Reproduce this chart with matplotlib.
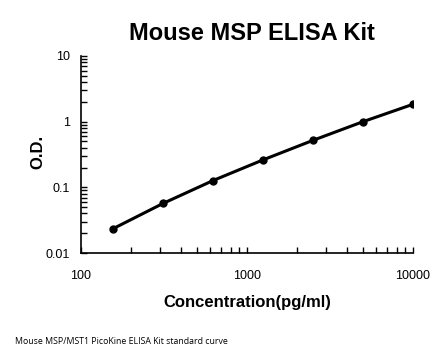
import matplotlib
matplotlib.use("Agg")
import matplotlib.pyplot as plt
from matplotlib.ticker import LogLocator, FixedLocator, FixedFormatter, NullFormatter

concentration = [156.25, 312.5, 625, 1250, 2500, 5000, 10000]
od_values = [0.0235, 0.057, 0.127, 0.262, 0.52, 1.0, 1.84]
x_ticks = [100, 1000, 10000]
x_tick_labels = ["100", "1000", "10000"]
y_ticks = [0.01, 0.1, 1, 10]
y_tick_labels = ["0.01", "0.1", "1", "10"]

plt.rcParams['font.family'] = ['Liberation Sans', 'DejaVu Sans']

fig = plt.figure(figsize=(4.46, 3.56), dpi=100)
ax = fig.add_axes([81/446, 1-253/356, (413-81)/446, (253-56)/356])

ax.plot(concentration, od_values, color='black', linewidth=2.2,
        marker='o', markersize=5, solid_capstyle='round')

ax.set_xscale('log')
ax.set_yscale('log')
ax.set_xlim(100, 10000)
ax.set_ylim(0.01, 10)

ax.xaxis.set_major_locator(FixedLocator(x_ticks))
ax.xaxis.set_major_formatter(FixedFormatter(x_tick_labels))
ax.yaxis.set_major_locator(FixedLocator(y_ticks))
ax.yaxis.set_major_formatter(FixedFormatter(y_tick_labels))
ax.xaxis.set_minor_locator(LogLocator(base=10, subs=range(2, 10)))
ax.yaxis.set_minor_locator(LogLocator(base=10, subs=range(2, 10)))
ax.xaxis.set_minor_formatter(NullFormatter())
ax.yaxis.set_minor_formatter(NullFormatter())

ax.tick_params(which='both', direction='in', length=4, width=1, labelsize=9,
               colors='black')
ax.tick_params(axis='y', which='both', pad=8)
ax.tick_params(axis='x', which='both', pad=12)

for s in ['top', 'right']:
    ax.spines[s].set_visible(False)
for s in ['left', 'bottom']:
    ax.spines[s].set_linewidth(1.2)

fig.text(252/446, 1-33/356, "Mouse MSP ELISA Kit", ha='center', va='center',
         fontsize=17, fontweight='bold')
fig.text(38/446, 1-152/356, "O.D.", ha='center', va='center', rotation=90,
         fontsize=12, fontweight='bold')
fig.text(247/446, 1-302/356, "Concentration(pg/ml)", ha='center', va='center',
         fontsize=12, fontweight='bold')
fig.text(15/446, 1-342/356, "Mouse MSP/MST1 PicoKine ELISA Kit standard curve",
         ha='left', va='center', fontsize=6.3, family=['Open Sans', 'DejaVu Sans'])

fig.savefig("out.png", dpi=100)
